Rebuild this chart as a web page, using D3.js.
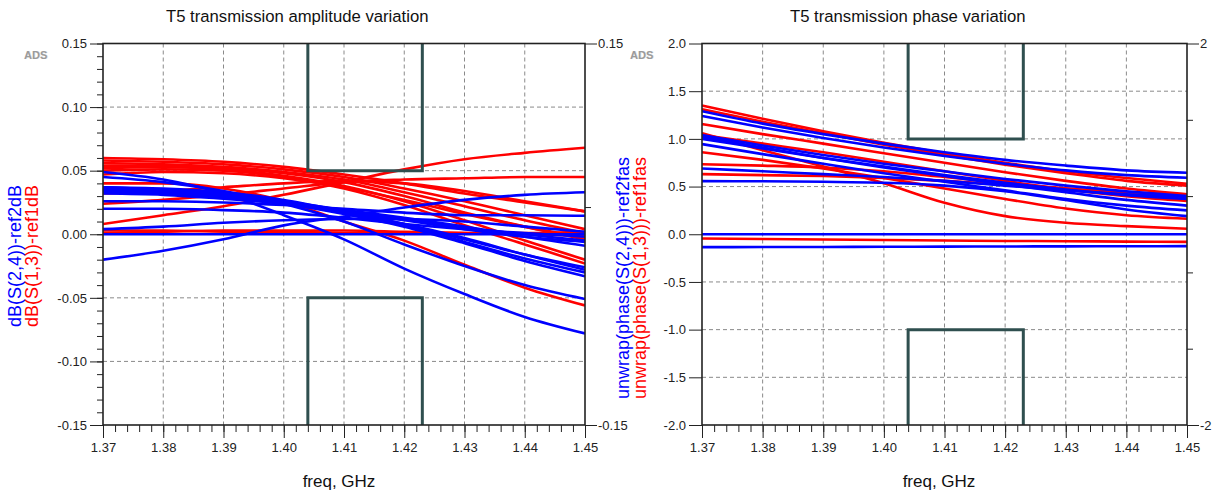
<!DOCTYPE html>
<html>
<head>
<meta charset="utf-8">
<script src="https://cdn.jsdelivr.net/npm/d3@7"></script>
<style>
  body { margin: 0; background: #fff; }
  svg text { font-family: Arial, "Liberation Sans", sans-serif; }
</style>
</head>
<body>
<svg id="chart" width="1215" height="493"></svg>
<script>

// frequency points (GHz)
var freqs = [1.37, 1.38, 1.39, 1.40, 1.41, 1.42, 1.43, 1.44, 1.45];
var freqTicks = [1.37, 1.38, 1.39, 1.40, 1.41, 1.42, 1.43, 1.44, 1.45];

// dB(S(1,3))-ref1dB  (red traces)
var ampRed = [
    [0.008, 0.015, 0.022, 0.031, 0.041, 0.051, 0.059, 0.064, 0.068],
    [0.024, 0.027, 0.031, 0.036, 0.041, 0.043, 0.044, 0.045, 0.045],
    [0.060, 0.059, 0.057, 0.053, 0.047, 0.040, 0.032, 0.025, 0.018],
    [0.058, 0.057, 0.055, 0.051, 0.045, 0.036, 0.026, 0.015, 0.004],
    [0.056, 0.055, 0.053, 0.049, 0.043, 0.033, 0.022, 0.011, 0.001],
    [0.054, 0.054, 0.052, 0.048, 0.041, 0.030, 0.017, 0.006, -0.004],
    [0.052, 0.053, 0.051, 0.046, 0.038, 0.026, 0.011, -0.005, -0.020],
    [0.050, 0.051, 0.050, 0.045, 0.036, 0.023, 0.007, -0.008, -0.023],
    [0.040, 0.040, 0.036, 0.026, 0.010, -0.005, -0.024, -0.042, -0.056],
    [0.032, 0.034, 0.037, 0.040, 0.042, 0.040, 0.034, 0.026, 0.018],
    [0.001, 0.002, 0.003, 0.003, 0.003, 0.002, 0.001, 0.000, -0.001],
    [0.003, 0.003, 0.002, 0.002, 0.001, 0.001, 0.001, 0.001, 0.002],
    [0.047, 0.049, 0.048, 0.044, 0.037, 0.027, 0.016, 0.006, -0.003]
];

// dB(S(2,4))-ref2dB  (blue traces)
var ampBlue = [
    [0.049, 0.043, 0.032, 0.015, -0.004, -0.027, -0.047, -0.065, -0.078],
    [0.045, 0.041, 0.034, 0.024, 0.010, -0.008, -0.025, -0.040, -0.051],
    [0.037, 0.036, 0.033, 0.027, 0.018, 0.008, -0.004, -0.016, -0.026],
    [0.036, 0.035, 0.032, 0.026, 0.017, 0.007, -0.006, -0.019, -0.030],
    [0.034, 0.033, 0.030, 0.024, 0.016, 0.006, -0.007, -0.021, -0.033],
    [0.035, 0.034, 0.031, 0.026, 0.019, 0.012, 0.005, 0.000, -0.005],
    [0.032, 0.031, 0.028, 0.024, 0.019, 0.013, 0.006, -0.002, -0.009],
    [0.037, 0.035, 0.031, 0.025, 0.018, 0.011, 0.004, -0.002, -0.006],
    [0.026, 0.026, 0.025, 0.023, 0.020, 0.017, 0.015, 0.015, 0.0145],
    [0.020, 0.020, 0.019, 0.017, 0.013, 0.008, 0.004, 0.001, -0.002],
    [-0.020, -0.013, -0.004, 0.007, 0.014, 0.021, 0.027, 0.031, 0.033],
    [0.004, 0.006, 0.009, 0.011, 0.012, 0.012, 0.010, 0.006, 0.002],
    [0.000, 0.000, 0.000, 0.000, 0.000, 0.000, 0.000, 0.000, 0.000],
    [0.033, 0.032, 0.029, 0.024, 0.017, 0.008, -0.003, -0.016, -0.028]
];

// unwrap(phase(S(1,3)))-ref1fas  (red traces)
var phaseRed = [
    [1.35, 1.21, 1.08, 0.96, 0.85, 0.75, 0.66, 0.59, 0.53],
    [1.31, 1.18, 1.06, 0.94, 0.83, 0.73, 0.64, 0.56, 0.51],
    [1.155, 1.05, 0.95, 0.85, 0.75, 0.65, 0.56, 0.48, 0.42],
    [1.06, 0.88, 0.71, 0.535, 0.33, 0.19, 0.12, 0.085, 0.058],
    [1.04, 0.95, 0.86, 0.76, 0.66, 0.56, 0.47, 0.40, 0.35],
    [0.86, 0.78, 0.69, 0.59, 0.48, 0.37, 0.27, 0.20, 0.163],
    [0.734, 0.72, 0.70, 0.66, 0.60, 0.54, 0.48, 0.44, 0.40],
    [0.63, 0.62, 0.61, 0.59, 0.56, 0.52, 0.48, 0.44, 0.42],
    [-0.045, -0.05, -0.055, -0.06, -0.065, -0.07, -0.073, -0.077, -0.08]
];

// unwrap(phase(S(2,4)))-ref2fas  (blue traces)
var phaseBlue = [
    [1.29, 1.16, 1.05, 0.95, 0.86, 0.78, 0.72, 0.67, 0.645],
    [1.24, 1.12, 1.01, 0.91, 0.82, 0.74, 0.67, 0.62, 0.593],
    [1.04, 0.93, 0.83, 0.74, 0.66, 0.58, 0.51, 0.45, 0.40],
    [1.02, 0.91, 0.80, 0.70, 0.61, 0.52, 0.44, 0.36, 0.30],
    [1.00, 0.90, 0.80, 0.71, 0.62, 0.54, 0.47, 0.41, 0.37],
    [0.945, 0.84, 0.74, 0.64, 0.55, 0.46, 0.37, 0.30, 0.25],
    [0.69, 0.66, 0.63, 0.60, 0.56, 0.51, 0.46, 0.42, 0.39],
    [0.557, 0.555, 0.55, 0.54, 0.51, 0.45, 0.36, 0.26, 0.19],
    [0.0, 0.0, 0.0, 0.0, 0.0, 0.0, 0.0, 0.0, 0.0],
    [-0.135, -0.134, -0.133, -0.131, -0.130, -0.128, -0.127, -0.126, -0.125]
];

// axis ticks
var ampTicks = [-0.15, -0.10, -0.05, 0.00, 0.05, 0.10, 0.15];
var phaseTicks = [-2.0, -1.5, -1.0, -0.5, 0.0, 0.5, 1.0, 1.5, 2.0];
var ampRightTicks = [-0.15, 0.15];
var phaseRightTicks = [-2, 2];
var phaseRightMinor = [-1.2, -0.4, 0.4, 1.2];

// mask limits: [fLow, fHigh, upper limit, lower limit]
var ampMask = [1.404, 1.423, 0.05, -0.05];
var phaseMask = [1.404, 1.423, 1.0, -1.0];

var svg = d3.select("#chart");
var plotTop = 43.5, plotBottom = 425;

function drawPanel(p) {
    var g = svg.append("g");
    var x = d3.scaleLinear().domain([1.37, 1.45]).range([p.left, p.right]);
    var y = d3.scaleLinear().domain(p.yDomain).range([plotBottom, plotTop]);

    // dashed grid
    g.append("g").selectAll("line").data(freqTicks.slice(1, -1)).join("line")
        .attr("x1", d => x(d)).attr("x2", d => x(d))
        .attr("y1", plotTop).attr("y2", plotBottom)
        .attr("stroke", "#8a8a8a").attr("stroke-dasharray", "4,3");
    g.append("g").selectAll("line").data(p.yTicks.slice(1, -1)).join("line")
        .attr("x1", p.left).attr("x2", p.right)
        .attr("y1", d => y(d)).attr("y2", d => y(d))
        .attr("stroke", "#8a8a8a").attr("stroke-dasharray", "4,3");

    // traces
    var clipId = "clip" + p.left;
    svg.append("clipPath").attr("id", clipId).append("rect")
        .attr("x", p.left).attr("y", plotTop)
        .attr("width", p.right - p.left).attr("height", plotBottom - plotTop);

    var line = d3.line()
        .x((d, i) => x(freqs[i]))
        .y(d => y(d))
        .curve(d3.curveMonotoneX);

    var traces = g.append("g").attr("clip-path", "url(#" + clipId + ")");
    traces.selectAll("path.red").data(p.red).join("path")
        .attr("class", "red")
        .attr("d", line)
        .attr("fill", "none").attr("stroke", "#ff0000").attr("stroke-width", 2.6);
    traces.selectAll("path.blue").data(p.blue).join("path")
        .attr("class", "blue")
        .attr("d", line)
        .attr("fill", "none").attr("stroke", "#0000ff").attr("stroke-width", 2.6);

    // mask boxes
    var m = p.mask;
    var maskColor = "#2f4f4f";
    g.append("path")
        .attr("d", "M" + x(m[0]) + "," + plotTop + "V" + y(m[2]) + "H" + x(m[1]) + "V" + plotTop)
        .attr("fill", "none").attr("stroke", maskColor).attr("stroke-width", 3);
    g.append("path")
        .attr("d", "M" + x(m[0]) + "," + plotBottom + "V" + y(m[3]) + "H" + x(m[1]) + "V" + plotBottom)
        .attr("fill", "none").attr("stroke", maskColor).attr("stroke-width", 3);

    // bottom axis
    var xAxis = d3.axisBottom(x).tickValues(freqTicks).tickSize(13).tickSizeOuter(0)
        .tickPadding(5).tickFormat(d => d.toFixed(2));
    var xg = g.append("g").attr("transform", "translate(0," + plotBottom + ")").call(xAxis);
    var minorF = d3.range(0, 41).map(i => 1.37 + i * 0.002);
    var xm = g.append("g").attr("transform", "translate(0," + plotBottom + ")")
        .call(d3.axisBottom(x).tickValues(minorF).tickSize(7).tickSizeOuter(0).tickFormat(""));

    // left axis
    var yAxis = d3.axisLeft(y).tickValues(p.yTicks).tickSize(13).tickSizeOuter(0)
        .tickPadding(3).tickFormat(d => d.toFixed(p.dec));
    var yg = g.append("g").attr("transform", "translate(" + p.left + ",0)").call(yAxis);
    var yMinorG = null;
    if (p.yMinor) {
        yMinorG = g.append("g").attr("transform", "translate(" + p.left + ",0)")
            .call(d3.axisLeft(y).tickValues(p.yMinor).tickSize(6).tickSizeOuter(0).tickFormat(""));
    }

    // right axis
    var yr = d3.scaleLinear().domain(p.rightDomain).range([plotBottom, plotTop]);
    var rg = g.append("g").attr("transform", "translate(" + p.right + ",0)")
        .call(d3.axisRight(yr).tickValues(p.rightTicks).tickSize(12).tickSizeOuter(0)
            .tickPadding(1).tickFormat(p.rightFormat));
    var rmg = g.append("g").attr("transform", "translate(" + p.right + ",0)")
        .call(d3.axisRight(yr).tickValues(p.rightMinor).tickSize(6).tickSizeOuter(0).tickFormat(""));

    [xg, xm, yg, yMinorG, rg, rmg].forEach(function(a) {
        if (!a) return;
        a.select(".domain").remove();
        a.selectAll("line").attr("stroke", "#222");
        a.selectAll("text").attr("fill", "#222").style("font-size", "13px");
    });

    // frame
    g.append("rect")
        .attr("x", p.left).attr("y", plotTop)
        .attr("width", p.right - p.left).attr("height", plotBottom - plotTop)
        .attr("fill", "none").attr("stroke", "#222").attr("stroke-width", 1.6);

    // title
    svg.append("text")
        .attr("x", p.titleX).attr("y", 22)
        .text(p.title)
        .style("font-size", "16.7px").attr("fill", "#111");

    // x label
    svg.append("text")
        .attr("x", p.xLabelX).attr("y", 487)
        .attr("text-anchor", "middle")
        .text("freq, GHz")
        .style("font-size", "17px").attr("fill", "#111");

    // y labels (blue then red)
    svg.append("text")
        .attr("transform", "translate(" + p.labelX + "," + p.labelY + ") rotate(-90)")
        .attr("text-anchor", "middle")
        .text(p.blueLabel)
        .style("font-size", "18px").attr("fill", "#0000ff");
    svg.append("text")
        .attr("transform", "translate(" + (p.labelX + 17) + "," + p.labelY + ") rotate(-90)")
        .attr("text-anchor", "middle")
        .text(p.redLabel)
        .style("font-size", "18px").attr("fill", "#ff0000");

    // ADS logo
    svg.append("text")
        .attr("x", p.adsX + 0.8).attr("y", 59.3)
        .text("ADS")
        .style("font-size", "11px").style("font-weight", "bold").attr("fill", "#e2e2e2");
    svg.append("text")
        .attr("x", p.adsX).attr("y", 58.5)
        .text("ADS")
        .style("font-size", "11px").style("font-weight", "bold").attr("fill", "#9b9b9b");
}

drawPanel({
    left: 103, right: 585,
    yDomain: [-0.15, 0.15], yTicks: ampTicks, dec: 2,
    yMinor: d3.range(0, 31).map(i => -0.15 + i * 0.01),
    rightDomain: [-0.15, 0.15], rightTicks: ampRightTicks, rightMinor: [0.0214],
    rightFormat: d => d.toFixed(2),
    red: ampRed, blue: ampBlue, mask: ampMask,
    title: "T5 transmission amplitude variation", titleX: 166,
    xLabelX: 339,
    blueLabel: "dB(S(2,4))-ref2dB", redLabel: "dB(S(1,3))-ref1dB",
    labelX: 21, labelY: 256,
    adsX: 24
});

drawPanel({
    left: 702, right: 1187,
    yDomain: [-2, 2], yTicks: phaseTicks, dec: 1,
    yMinor: null,
    rightDomain: [-2, 2], rightTicks: phaseRightTicks, rightMinor: phaseRightMinor,
    rightFormat: d => String(d),
    red: phaseRed, blue: phaseBlue, mask: phaseMask,
    title: "T5 transmission phase variation", titleX: 790,
    xLabelX: 939,
    blueLabel: "unwrap(phase(S(2,4)))-ref2fas", redLabel: "unwrap(phase(S(1,3)))-ref1fas",
    labelX: 629, labelY: 278,
    adsX: 630
});

</script>
</body>
</html>
